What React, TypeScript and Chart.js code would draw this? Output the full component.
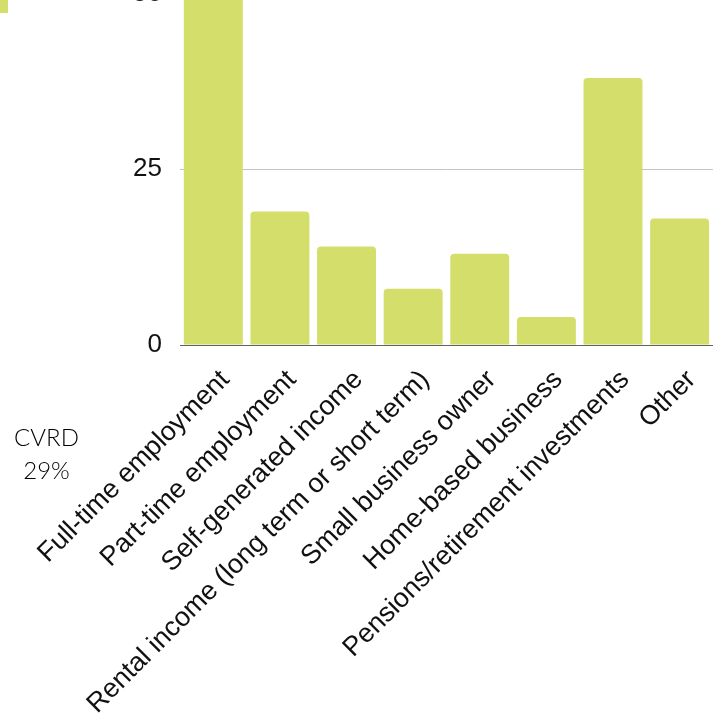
import React, { useEffect, useRef } from "react";
import { Chart, registerables } from "chart.js";

Chart.register(...registerables);

const categories = [
  "Full-time employment",
  "Part-time employment",
  "Self-generated income",
  "Rental income (long term or short term)",
  "Small business owner",
  "Home-based business",
  "Pensions/retirement investments",
  "Other",
];
const values = [50, 19, 14, 8, 13, 4, 38, 18];
const yMin = 0;
const yMax = 50;
const yStep = 25;
const regionName = "CVRD";
const regionShare = "29%";

const GREEN = "#d4de6a";
const CANVAS_W = 722;
const CANVAS_H = 760;
const CANVAS_TOP = -40;
const X_AXIS_H = 375;

export default function App() {
  const ref = useRef<HTMLCanvasElement | null>(null);
  useEffect(() => {
    if (!ref.current) return;
    const chart = new Chart(ref.current, {
      type: "bar",
      data: {
        labels: categories,
        datasets: [
          {
            data: values,
            backgroundColor: GREEN,
            borderRadius: 4,
            borderSkipped: "bottom",
            barPercentage: 0.885,
            categoryPercentage: 1,
          },
        ],
      },
      options: {
        responsive: false,
        animation: false,
        layout: { padding: { left: 0, right: 7.5, top: 0, bottom: 0 } },
        plugins: {
          legend: { display: false },
          tooltip: { enabled: false },
        },
        scales: {
          x: {
            grid: { display: false, drawTicks: false },
            border: { display: true, color: "rgba(0,0,0,0.5)", width: 1, z: 1 },
            ticks: {
              minRotation: 45,
              maxRotation: 45,
              autoSkip: false,
              padding: 19,
              labelOffset: 12,
              color: "#111",
              font: { family: "'Liberation Sans', Arial, sans-serif", size: 27 },
            },
            afterFit: (scale: any) => {
              scale.height = X_AXIS_H;
            },
          },
          y: {
            min: yMin,
            max: yMax,
            ticks: {
              stepSize: yStep,
              padding: 18,
              color: "#111",
              font: { family: "'Liberation Sans', Arial, sans-serif", size: 26 },
            },
            grid: { color: "#c4c4c4", drawTicks: false },
            border: { display: false },
            afterFit: (scale: any) => {
              scale.width = 180;
            },
          },
        },
      },
    });
    return () => chart.destroy();
  }, []);

  return (
    <div
      style={{
        position: "fixed",
        left: 0,
        top: 0,
        width: 722,
        height: 713,
        overflow: "hidden",
        background: "#fff",
      }}
    >
      <div
        style={{
          position: "absolute",
          left: 0,
          top: 0,
          width: 8,
          height: 13,
          background: GREEN,
        }}
      />
      <canvas
        ref={ref}
        width={CANVAS_W}
        height={CANVAS_H}
        style={{
          position: "absolute",
          left: 0,
          top: CANVAS_TOP,
          width: CANVAS_W,
          height: CANVAS_H,
        }}
      />
      <div
        style={{
          position: "absolute",
          left: 0,
          top: 420,
          width: 93,
          textAlign: "center",
          fontFamily: "Lato, 'Open Sans', sans-serif",
          fontWeight: 300,
          fontSize: 24,
          lineHeight: "33px",
          color: "#000",
        }}
      >
        <div>{regionName}</div>
        <div>{regionShare}</div>
      </div>
    </div>
  );
}
